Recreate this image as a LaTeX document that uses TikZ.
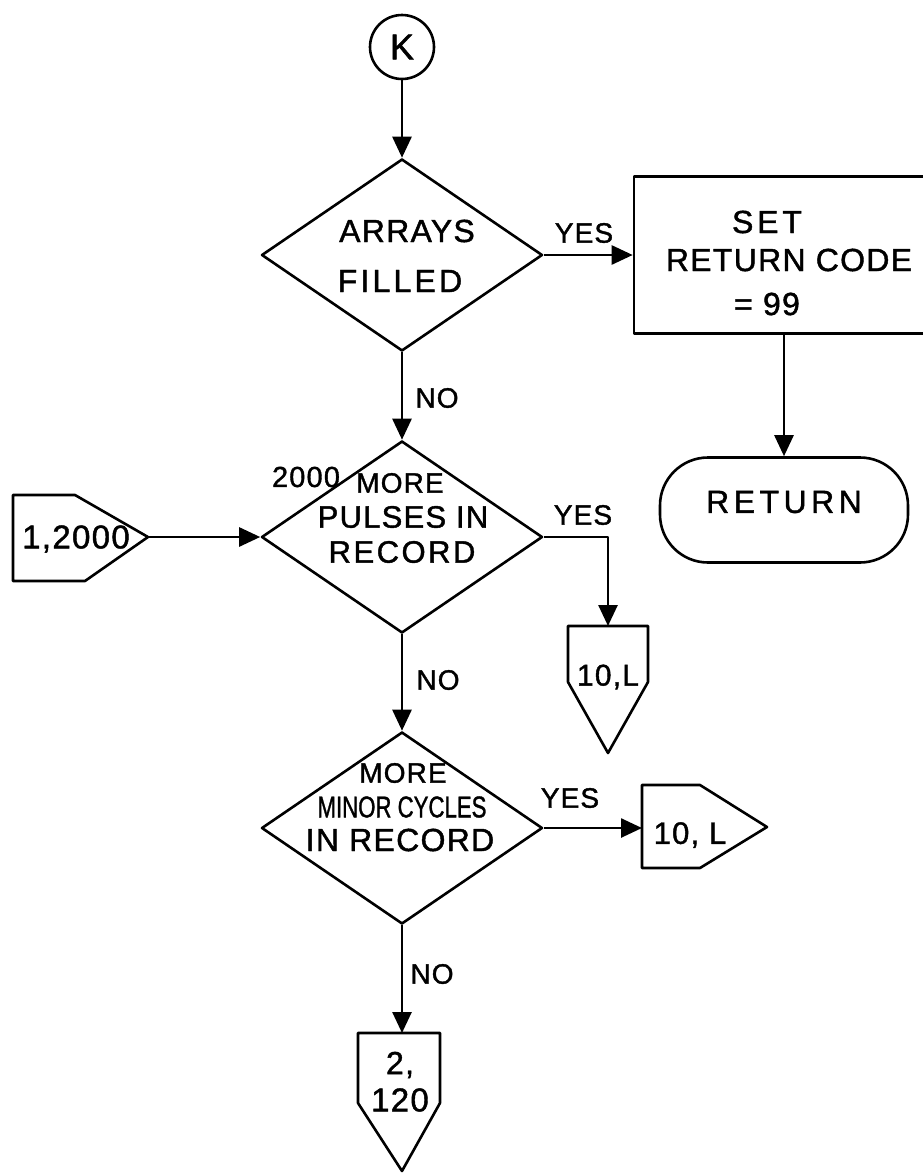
\documentclass[tikz,border=0pt]{standalone}
\usepackage{fontspec}
\usepackage{graphicx}
\setmainfont{Liberation Sans}[LetterSpace=4,FakeBold=1.3]
\usetikzlibrary{shapes.geometric,arrows.meta}
\newcommand{\fs}[1]{\fontsize{#1}{#1}\selectfont}
\tikzset{
  ln/.style={line width=2.6pt, line join=round},
  arr/.style={ln, -{Triangle[length=21pt,width=19pt]}},
  dia/.style={draw, ln, diamond, inner sep=0pt, minimum width=281pt, minimum height=192pt},
  txt/.style={inner sep=0pt, font=\fs{32}},
  lbl/.style={inner sep=0pt, font=\fs{28}},
}
\begin{document}
\begin{tikzpicture}[x=1pt,y=-1pt]
\useasboundingbox (0,0) rectangle (923,1173);
\fill[white] (0,0) rectangle (923,1173);

% start connector
\node[draw, ln, circle, minimum size=64pt, inner sep=0pt, font=\fs{36}] (k) at (402,47) {K};

% decision 1
\node[dia] (d1) at (402,255) {};
\node[txt] (d1a) at (407,231) {ARRAYS};
\node[txt, font=\fs{32}\addfontfeature{LetterSpace=10}] (d1b) at (400,281) {FILLED};

% process box
\node[draw, ln, minimum width=292pt, minimum height=157pt, inner sep=0pt] (box) at (780,255) {};
\node[txt, font=\fs{32}\addfontfeature{LetterSpace=12}] (b1) at (767,222) {SET};
\node[txt] (b2) at (789,260) {RETURN CODE};
\node[txt] (b3) at (767,304) {=\ 99};

% terminal
\node[draw, ln, rectangle, rounded corners=48pt, minimum width=248pt, minimum height=105pt, inner sep=0pt] (ret) at (784,510) {};
\node[txt, font=\fs{32}\addfontfeature{LetterSpace=14}] (rett) at (784,502) {RETURN};

% decision 2
\node[dia] (d2) at (402,537) {};
\node[txt, font=\fs{28}] (d2a) at (400,483) {MORE};
\node[txt, font=\fs{31}] (d2b) at (403,517) {PULSES IN};
\node[txt, font=\fs{31}\addfontfeature{LetterSpace=8}] (d2c) at (402,552) {RECORD};
\node[lbl, font=\fs{29}] (n2000) at (306,477) {2000};

% off-page connector 1,2000
\draw[ln] (13,495) -- (75,495) -- (148,537) -- (85,581) -- (13,581) -- cycle;
\coordinate (p0tip) at (148,537);
\node[txt, font=\fs{33}] (p0t) at (76,539) {1,2000};

% off-page connector 10,L (down)
\draw[ln] (568,626) -- (648,626) -- (648,682) -- (608,753) -- (568,682) -- cycle;
\coordinate (p1top) at (608,626);
\node[txt, font=\fs{30}] (p1t) at (608,677) {10,L};

% decision 3
\node[dia] (d3) at (402,828) {};
\node[txt, font=\fs{28}] (d3a) at (403,773) {MORE};
\node[txt, font=\fs{30}\addfontfeature{LetterSpace=0}] (d3b) at (402,807) {\scalebox{0.74}[1]{MINOR CYCLES}};
\node[txt, font=\fs{32}] (d3c) at (400,840) {IN RECORD};

% off-page connector 10, L (right)
\draw[ln] (642,785) -- (700,785) -- (767,827) -- (700,868) -- (642,868) -- cycle;
\coordinate (p2left) at (642,828);
\node[txt, font=\fs{31}] (p2t) at (690,835) {10, L};

% off-page connector 2,120
\draw[ln] (358,1033) -- (440,1033) -- (440,1103) -- (402,1171) -- (358,1103) -- cycle;
\coordinate (p3top) at (402,1033);
\node[txt] (p3a) at (400,1065) {2,};
\node[txt, font=\fs{33}] (p3b) at (400,1100) {120};

% connectors
\draw[arr] (k.south) -- (d1.north);
\draw[arr] (d1.east) -- (box.west);
\draw[arr] (box.south -| ret.north) -- (ret.north);
\draw[arr] (d1.south) -- (d2.north);
\draw[arr] (p0tip) -- (d2.west);
\draw[arr] (d2.east) -| (p1top);
\draw[arr] (d2.south) -- (d3.north);
\draw[arr] (d3.east) -- (p2left);
\draw[arr] (d3.south) -- (p3top);

% labels
\node[lbl] (y1) at (584,233) {YES};
\node[lbl] (y2) at (583,515) {YES};
\node[lbl] (y3) at (570,798) {YES};
\node[lbl] (no1) at (437,398) {NO};
\node[lbl] (no2) at (438,680) {NO};
\node[lbl] (no3) at (432,974) {NO};
\end{tikzpicture}
\end{document}
